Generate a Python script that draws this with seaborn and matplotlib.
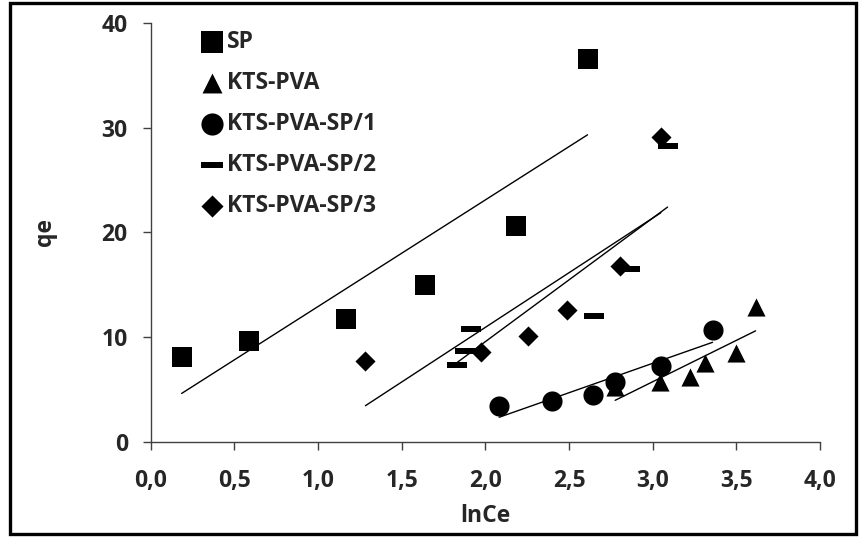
"""Freundlich-type plot: qe against lnCe for five sorbents, with linear trendlines."""

import matplotlib

matplotlib.use("Agg")
import matplotlib.pyplot as plt
import pandas as pd
import seaborn as sns
from matplotlib.patches import Rectangle


# values
SERIES = ["SP", "KTS-PVA", "KTS-PVA-SP/1", "KTS-PVA-SP/2", "KTS-PVA-SP/3"]

SP_X = [0.185, 0.589, 1.164, 1.636, 2.184, 2.610]
SP_Y = [8.16, 9.65, 11.72, 15.00, 20.62, 36.54]

KTS_PVA_X = [2.775, 3.045, 3.220, 3.313, 3.498, 3.614]
KTS_PVA_Y = [5.30, 5.70, 6.25, 7.53, 8.48, 12.93]

SP1_X = [2.082, 2.399, 2.641, 2.772, 3.046, 3.357]
SP1_Y = [3.49, 3.91, 4.51, 5.75, 7.25, 10.70]

SP2_X = [1.829, 1.879, 1.915, 2.646, 2.865, 3.088]
SP2_Y = [7.34, 8.73, 10.83, 12.04, 16.55, 28.25]

SP3_X = [1.283, 1.976, 2.253, 2.490, 2.805, 3.048]
SP3_Y = [7.75, 8.58, 10.16, 12.64, 16.80, 29.13]

X_TICKS = [0.0, 0.5, 1.0, 1.5, 2.0, 2.5, 3.0, 3.5, 4.0]
X_TICK_LABELS = ["0,0", "0,5", "1,0", "1,5", "2,0", "2,5", "3,0", "3,5", "4,0"]
Y_TICKS = [0, 10, 20, 30, 40]

# flat bar used by Excel for the "-" marker
DASH = [(-1.0, -0.25), (1.0, -0.25), (1.0, 0.25), (-1.0, 0.25), (-1.0, -0.25)]

FONT_SIZE = 16.5


def build_frame() -> pd.DataFrame:
    parts = []
    for name, xs, ys in [
        ("SP", SP_X, SP_Y),
        ("KTS-PVA", KTS_PVA_X, KTS_PVA_Y),
        ("KTS-PVA-SP/1", SP1_X, SP1_Y),
        ("KTS-PVA-SP/2", SP2_X, SP2_Y),
        ("KTS-PVA-SP/3", SP3_X, SP3_Y),
    ]:
        parts.append(pd.DataFrame({"lnCe": xs, "qe": ys, "series": name}))
    return pd.concat(parts, ignore_index=True)


def main() -> None:
    sns.set_theme(style="ticks")
    plt.rcParams["font.family"] = ["Open Sans", "DejaVu Sans"]
    plt.rcParams["font.weight"] = "bold"

    df = build_frame()
    markers = {
        "SP": "s",
        "KTS-PVA": "^",
        "KTS-PVA-SP/1": "o",
        "KTS-PVA-SP/2": DASH,
        "KTS-PVA-SP/3": "D",
    }
    sizes = {"SP": 210, "KTS-PVA": 170, "KTS-PVA-SP/1": 210, "KTS-PVA-SP/2": 210, "KTS-PVA-SP/3": 105}

    fig = plt.figure(figsize=(8.61, 5.38), dpi=100)
    ax = fig.add_axes([0.175, 0.178, 0.7776, 0.7800])

    for name in SERIES:
        sub = df[df["series"] == name]
        sns.regplot(
            data=sub, x="lnCe", y="qe", ax=ax, scatter=False, ci=None, truncate=True,
            line_kws={"color": "black", "linewidth": 1.0},
        )
    for name in SERIES:
        sub = df[df["series"] == name]
        sns.scatterplot(
            data=sub, x="lnCe", y="qe", ax=ax, marker=markers[name], s=sizes[name],
            color="black", edgecolor="black", linewidth=0, label=name, zorder=3,
        )

    ax.set_xlim(0, 4.0)
    ax.set_ylim(0, 40)
    ax.set_xticks(X_TICKS)
    ax.set_xticklabels(X_TICK_LABELS, fontweight="bold")
    ax.set_yticks(Y_TICKS)
    ax.set_yticklabels([str(v) for v in Y_TICKS], fontweight="bold")
    ax.tick_params(axis="both", labelsize=FONT_SIZE, length=5.5, width=1.0, color="#404040")
    ax.tick_params(axis="x", pad=14)
    ax.tick_params(axis="y", pad=11)
    ax.set_xlabel("lnCe", fontsize=FONT_SIZE, fontweight="bold", labelpad=8)
    ax.set_ylabel("qe", fontsize=FONT_SIZE, fontweight="bold", labelpad=32)
    for side in ["top", "right"]:
        ax.spines[side].set_visible(False)
    for side in ["left", "bottom"]:
        ax.spines[side].set_color("#404040")
        ax.spines[side].set_linewidth(1.0)

    leg = ax.legend(
        loc="upper left", bbox_to_anchor=(0.065, 1.005), frameon=False, fontsize=FONT_SIZE,
        handlelength=0.75, handletextpad=0.3, labelspacing=0.75, borderaxespad=0,
        markerscale=1.1,
    )
    for text in leg.get_texts():
        text.set_fontweight("bold")

    fig.patches.append(
        Rectangle((0.0116, 0.007), 0.9826, 0.988, transform=fig.transFigure,
                  fill=False, edgecolor="black", linewidth=2.4)
    )

    fig.savefig("out.png", dpi=100)
    plt.close(fig)


if __name__ == "__main__":
    main()
